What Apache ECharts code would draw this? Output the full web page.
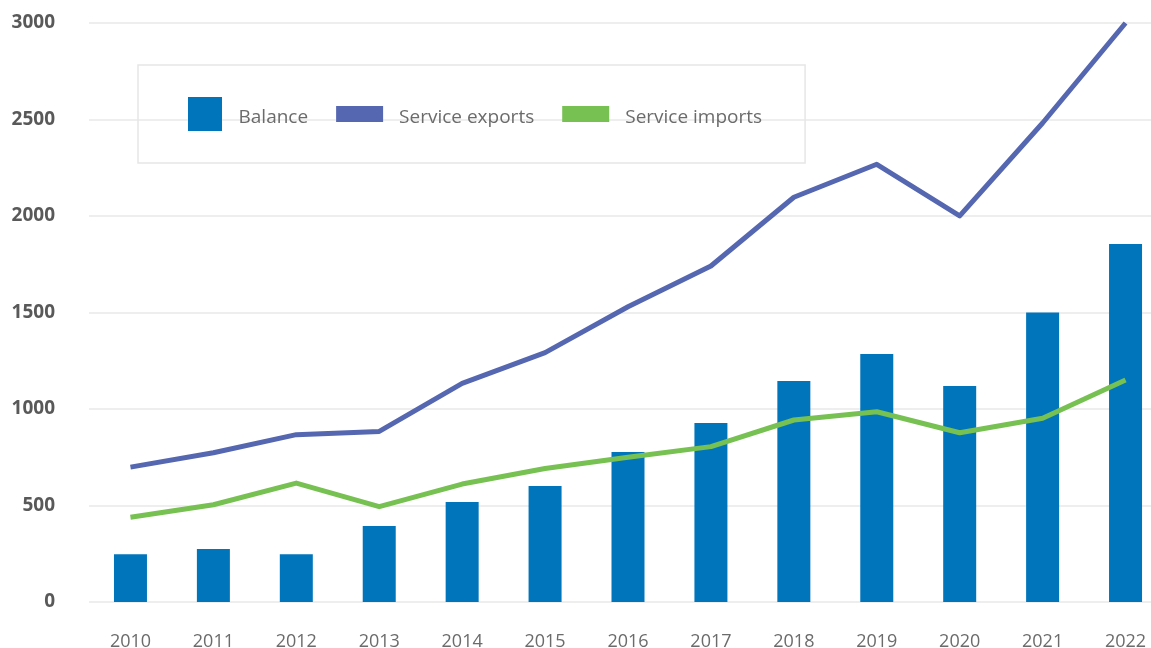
<!DOCTYPE html>
<html>
<head>
<meta charset="utf-8">
<script src="https://cdn.jsdelivr.net/npm/echarts@6/dist/echarts.min.js"></script>
<style>
html,body{margin:0;padding:0;background:#fff;}
#chart{width:1151px;height:648px;}
</style>
</head>
<body>
<div id="chart"></div>
<script>
const categories = ['2010','2011','2012','2013','2014','2015','2016','2017','2018','2019','2020','2021','2022'];
const balance = [248, 274, 248, 394, 518, 601, 777, 927, 1145, 1285, 1119, 1500, 1855];
const serviceExports = [699, 773, 867, 884, 1133, 1292, 1530, 1741, 2097, 2268, 2001, 2482, 3000];
const serviceImports = [439, 504, 616, 494, 611, 692, 750, 805, 943, 986, 877, 952, 1150];
const seriesNames = ['Balance', 'Service exports', 'Service imports'];

const chart = echarts.init(document.getElementById('chart'), null, {renderer: 'canvas'});
const font = '"Open Sans", "Noto Sans", sans-serif';
const legendText = {fontFamily: font, fontSize: 19, color: '#6b6b6b', lineHeight: 26, verticalAlign: 'bottom'};
chart.setOption({
  animation: false,
  textStyle: {fontFamily: font},
  grid: {left: 89, width: 1078, top: 23, height: 579, containLabel: false, outerBoundsMode: 'none'},
  legend: {
    left: 138, top: 65,
    orient: 'horizontal',
    padding: [32, 43, 32, 50],
    borderColor: '#e6e6e6', borderWidth: 1.5,
    itemWidth: 47, itemHeight: 34, itemGap: 28,
    formatter: function (name) { return (name === seriesNames[0] ? '{a|' : '{b|') + name + '}'; },
    textStyle: {
      fontFamily: font, fontSize: 19, color: '#6b6b6b',
      rich: {
        a: Object.assign({padding: [0, 0, 0, 5]}, legendText),
        b: Object.assign({padding: [0, 0, 0, 11]}, legendText)
      }
    },
    data: [
      {name: seriesNames[0], icon: 'path://M0,0h34v34h-34z'},
      {name: seriesNames[1], icon: 'path://M0,0h47v16h-47z'},
      {name: seriesNames[2], icon: 'path://M0,0h47v16h-47z'}
    ]
  },
  xAxis: {
    type: 'category',
    data: categories,
    boundaryGap: true,
    axisLine: {show: false},
    axisTick: {show: false},
    axisLabel: {fontFamily: font, fontSize: 18, color: '#6b6b6b', margin: 31}
  },
  yAxis: {
    type: 'value',
    min: 0, max: 3000, interval: 500,
    axisLine: {show: false},
    axisTick: {show: false},
    axisLabel: {fontFamily: font, fontSize: 19, fontWeight: 'bold', color: '#595959', margin: 34,
      formatter: function (v) { return String(v); }},
    splitLine: {lineStyle: {color: '#e8e8e8', width: 1.5}}
  },
  series: [
    {name: seriesNames[0], type: 'bar', data: balance, barWidth: 33, color: '#0075bb', z: 1},
    {name: seriesNames[1], type: 'line', data: serviceExports, color: '#5567b1', showSymbol: false, symbol: 'none',
     lineStyle: {width: 5, color: '#5567b1', join: 'round'}, z: 3},
    {name: seriesNames[2], type: 'line', data: serviceImports, color: '#77c152', showSymbol: false, symbol: 'none',
     lineStyle: {width: 5, color: '#77c152', join: 'round'}, z: 3}
  ]
});
</script>
</body>
</html>
